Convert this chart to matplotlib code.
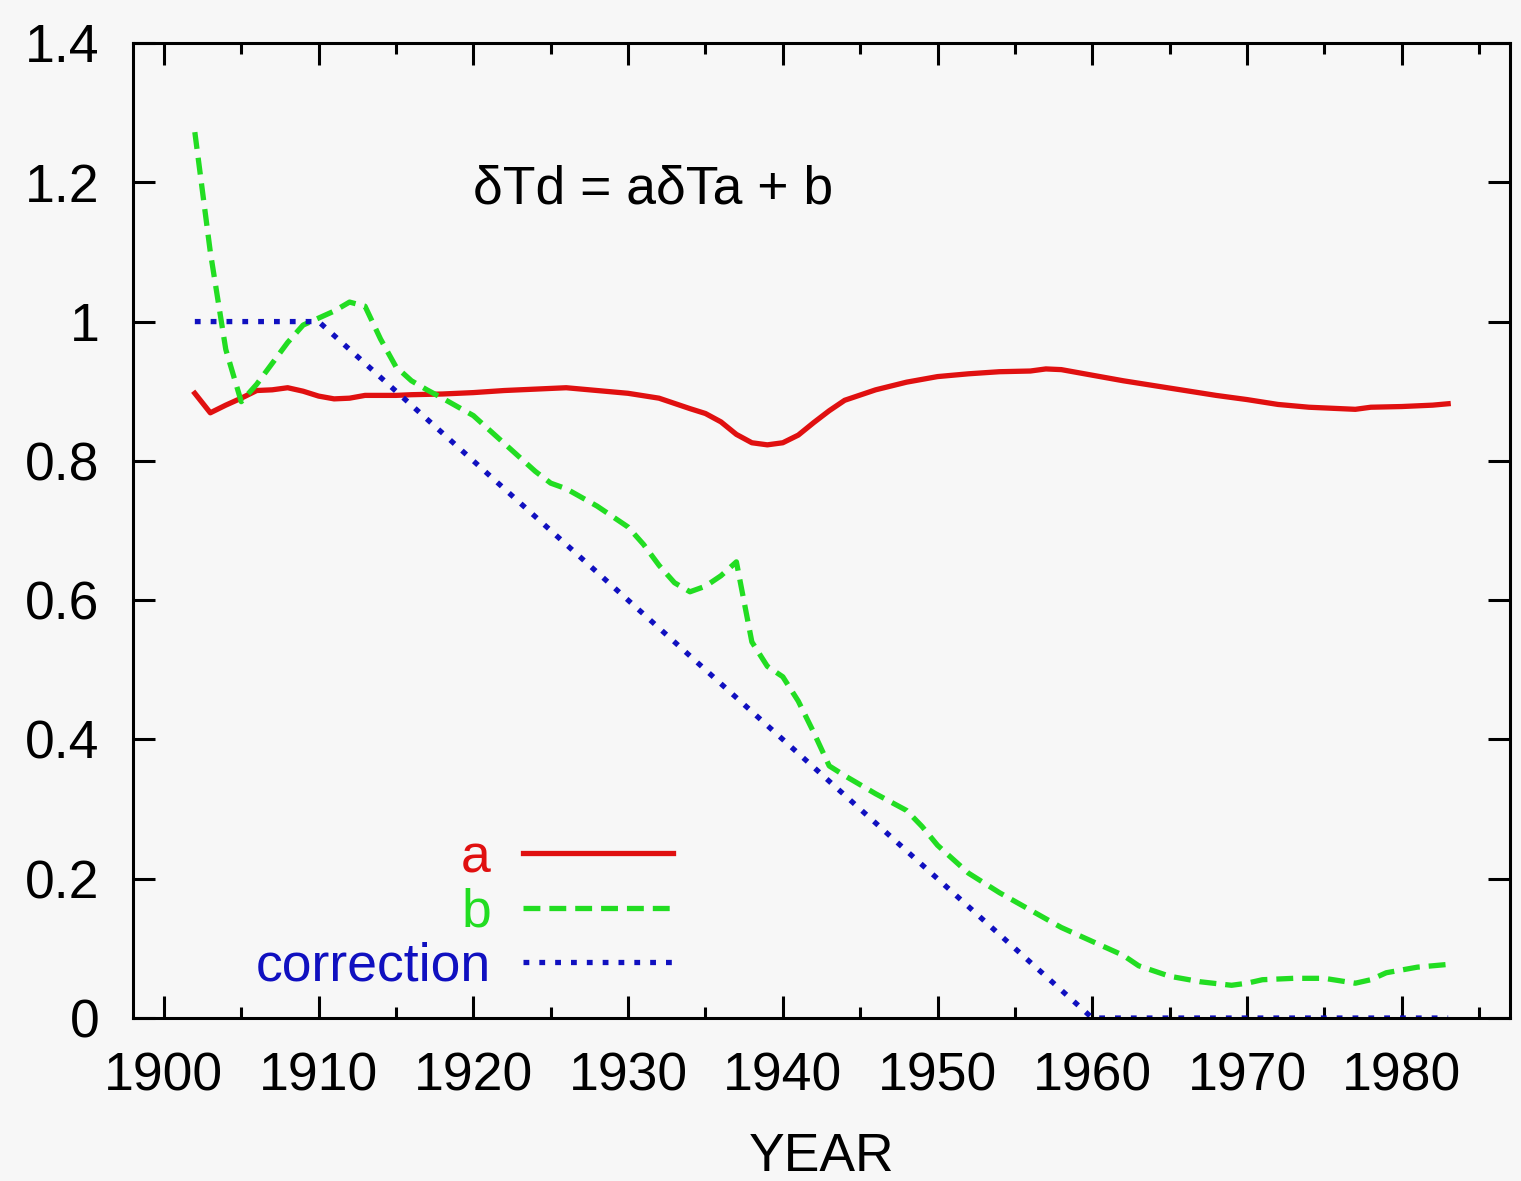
import matplotlib
matplotlib.use('Agg')
import matplotlib.pyplot as plt
from matplotlib.ticker import MultipleLocator

# values
years_a = [1902, 1903, 1904, 1905, 1906, 1907, 1908, 1909, 1910, 1911, 1912, 1913,
           1914, 1915, 1916, 1918, 1920, 1922, 1924, 1926, 1928, 1930, 1932, 1934,
           1935, 1936, 1937, 1938, 1939, 1940, 1941, 1942, 1943, 1944, 1946, 1948,
           1950, 1952, 1954, 1956, 1957, 1958, 1960, 1962, 1964, 1966, 1968, 1970,
           1972, 1974, 1976, 1977, 1978, 1980, 1982, 1983]
a_vals = [0.897, 0.869, 0.880, 0.890, 0.901, 0.902, 0.905, 0.900, 0.893, 0.889, 0.890, 0.894,
          0.894, 0.894, 0.895, 0.896, 0.898, 0.901, 0.903, 0.905, 0.901, 0.897, 0.890, 0.875,
          0.868, 0.856, 0.838, 0.826, 0.823, 0.826, 0.837, 0.855, 0.872, 0.887, 0.902, 0.913,
          0.921, 0.925, 0.928, 0.929, 0.932, 0.931, 0.923, 0.915, 0.908, 0.901, 0.894, 0.888,
          0.881, 0.877, 0.875, 0.874, 0.877, 0.878, 0.880, 0.882]

years_b = [1902, 1903, 1904, 1905, 1906, 1907, 1908, 1909, 1910, 1911, 1912, 1913,
           1914, 1915, 1916, 1917, 1918, 1920, 1922, 1924, 1925, 1926, 1928, 1930,
           1931, 1932, 1933, 1934, 1935, 1936, 1937, 1938, 1939, 1940, 1941, 1942,
           1943, 1944, 1946, 1948, 1949, 1950, 1952, 1954, 1956, 1958, 1960, 1962,
           1963, 1965, 1967, 1969, 1970, 1971, 1973, 1975, 1977, 1978, 1979, 1981, 1983]
b_vals = [1.272, 1.10, 0.96, 0.885, 0.91, 0.94, 0.97, 0.995, 1.005, 1.015, 1.028, 1.022,
          0.975, 0.935, 0.915, 0.902, 0.89, 0.865, 0.825, 0.785, 0.768, 0.760, 0.735, 0.705,
          0.68, 0.65, 0.625, 0.612, 0.620, 0.635, 0.655, 0.54, 0.505, 0.49, 0.455, 0.41,
          0.362, 0.348, 0.322, 0.298, 0.275, 0.248, 0.208, 0.180, 0.155, 0.130, 0.110, 0.090,
          0.075, 0.060, 0.052, 0.047, 0.050, 0.055, 0.057, 0.057, 0.050, 0.055, 0.065, 0.073, 0.077]

years_c = [1902, 1910, 1960, 1983]
c_vals = [1.0, 1.0, 0.0, 0.0]

x_ticks = [1900, 1910, 1920, 1930, 1940, 1950, 1960, 1970, 1980]
y_ticks = [0, 0.2, 0.4, 0.6, 0.8, 1.0, 1.2, 1.4]
y_labels = ['0', '0.2', '0.4', '0.6', '0.8', '1', '1.2', '1.4']

plt.rcParams['font.family'] = ['Liberation Sans', 'DejaVu Sans']
plt.rcParams['font.size'] = 38.5

bg = '#f7f7f7'
fig = plt.figure(figsize=(15.21, 11.81), dpi=100, facecolor=bg)
ax = fig.add_axes([0.0874, 0.138, 0.9054, 0.8256])
ax.set_facecolor(bg)

ax.plot(years_a, a_vals, color='#e01010', lw=3.8, label='a')
ax.plot(years_b, b_vals, color='#22dd22', lw=3.8, dashes=(3.2, 1.7), label='b')
ax.plot(years_c, c_vals, color='#1010c0', lw=3.8, dashes=(1.1, 1.9), label='correction')

ax.set_xlim(1898, 1987)
ax.set_ylim(0, 1.4)
ax.set_xticks(x_ticks)
ax.xaxis.set_minor_locator(MultipleLocator(5))
ax.set_yticks(y_ticks)
ax.set_yticklabels(y_labels)
ax.tick_params(which='both', direction='in', top=True, right=True, width=2.2)
ax.tick_params(which='major', length=16, pad=24)
ax.tick_params(which='minor', length=8)
for s in ax.spines.values():
    s.set_linewidth(2.2)

ax.set_xlabel('YEAR', labelpad=22)
ax.text(1920, 1.19, 'δTd = aδTa + b', va='center', ha='left')

leg = ax.legend(loc='lower right', bbox_to_anchor=(0.392, 0.027), frameon=False,
                markerfirst=False, labelcolor='linecolor', handlelength=2.8,
                handletextpad=0.6, labelspacing=0.08, borderpad=0, borderaxespad=0)

fig.savefig('out.png', dpi=100, facecolor=bg)
